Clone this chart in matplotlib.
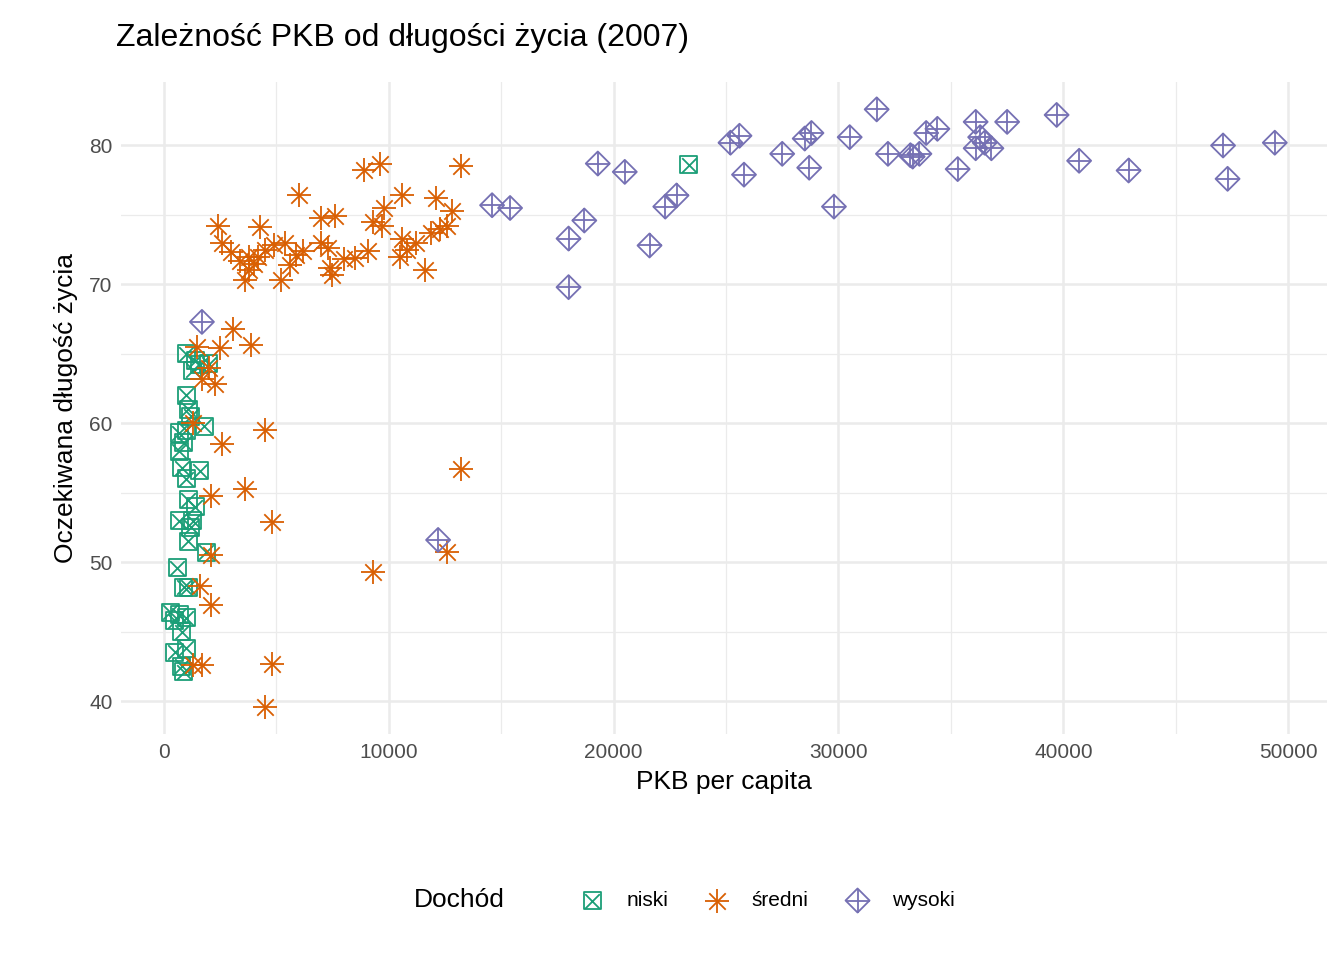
import matplotlib
matplotlib.use("Agg")
import matplotlib.pyplot as plt
from matplotlib.legend_handler import HandlerTuple

plt.rcParams['font.family'] = ['Liberation Sans', 'DejaVu Sans']

niski_x = [300,500,600,700,500,900,800,1000,800,1000,900,1100,700,1100,1200,1300,1100,1400,800,1600,1000,700,900,700,1000,1200,1800,1100,1000,1300,1600,1000,1400,2000,1900,23348]
niski_y = [46.4,45.8,49.6,46.2,43.5,42.1,42.5,43.8,45,46,48.2,48.2,53,51.5,52.5,53,54.5,54,56.8,56.6,56,58,58.6,59.3,59.5,60.5,59.8,61,62,63.8,64.2,65,64.5,64.3,50.7,78.6]
sredni_x = [4500,1300,1700,4800,2100,1600,12600,2100,9300,4800,2100,3600,13200,2600,4500,1300,1700,2300,1500,2500,3100,3900,2000,
            2400,2600,3000,3400,3600,3800,4200,4300,4500,4900,5200,5400,5600,5900,6000,6200,7000,7000,7300,7400,7500,7600,8000,8500,8900,9100,9300,9600,9700,9800,10500,10600,10600,10800,11200,11600,11900,12100,12300,12600,12800,13200,3800,4000]
sredni_y = [39.6,42.6,42.6,42.7,46.9,48.3,50.7,50.5,49.3,52.9,54.8,55.3,56.7,58.5,59.5,60,63.2,62.8,65.5,65.4,66.8,65.6,64,
            74.2,73,72.3,71.7,70.3,71,72,74.1,72.5,72.8,70.3,73,71.4,72.1,76.4,72.4,73,74.8,72.6,71.2,70.7,74.9,71.8,71.9,78.2,72.4,74.5,78.7,74.2,75.5,72,76.4,73.3,72.5,73,71,73.7,76.2,74,74.2,75.3,78.5,72,71.5]
wysoki_x = [1700,12200,14600,15400,18000,18000,18700,19300,20500,21600,22300,22800,25200,25600,25800,27500,28500,28700,28800,29800,30500,31700,32200,33200,33600,33900,34400,35300,36100,36100,36300,36800,37500,39700,40700,42900,47100,47300,49400,33300,36500]
wysoki_y = [67.3,51.6,75.7,75.5,73.3,69.8,74.6,78.7,78.1,72.8,75.6,76.4,80.2,80.7,77.9,79.4,80.5,78.4,80.9,75.6,80.6,82.6,79.4,79.3,79.4,80.9,81.2,78.3,81.7,79.8,80.6,79.8,81.7,82.2,78.9,78.2,80,77.6,80.2,79.2,80.2]

G, O, P = "#1B9E77", "#D95F02", "#7570B3"
fig, ax = plt.subplots(figsize=(13.44, 9.6), dpi=100)
fig.subplots_adjust(left=0.09, right=0.987, top=0.915, bottom=0.235)
kw = dict(linewidths=1.3, zorder=3)
h1a = ax.scatter(niski_x, niski_y, marker='s', facecolors='none', edgecolors=G, s=150, **kw)
h1b = ax.scatter(niski_x, niski_y, marker='x', c=G, s=110, **kw)
h2a = ax.scatter(sredni_x, sredni_y, marker='+', c=O, s=280, **kw)
h2b = ax.scatter(sredni_x, sredni_y, marker='x', c=O, s=140, **kw)
h3a = ax.scatter(wysoki_x, wysoki_y, marker='D', facecolors='none', edgecolors=P, s=150, **kw)
h3b = ax.scatter(wysoki_x, wysoki_y, marker='+', c=P, s=280, **kw)

ax.set_xlim(-1900, 51700)
ax.set_ylim(37.6, 84.6)
ax.set_xticks([0,10000,20000,30000,40000,50000])
ax.set_yticks([40,50,60,70,80])
ax.set_xticks([5000,15000,25000,35000,45000], minor=True)
ax.set_yticks([45,55,65,75], minor=True)
ax.grid(True, which='major', color='#EBEBEB', lw=1.8)
ax.grid(True, which='minor', color='#EBEBEB', lw=0.9)
ax.set_axisbelow(True)
for s in ax.spines.values(): s.set_visible(False)
ax.tick_params(which='both', length=0, labelsize=15, labelcolor='#4D4D4D', pad=6)
ax.set_xlabel("PKB per capita", fontsize=19, labelpad=6)
ax.set_ylabel("Oczekiwana długość życia", fontsize=19, labelpad=8)
fig.text(0.086, 0.96, "Zależność PKB od długości życia (2007)", fontsize=23, ha='left', va='center')
fig.text(0.308, 0.062, "Dochód", fontsize=19, ha='left', va='center')
leg = fig.legend([(h1a, h1b), (h2a, h2b), (h3a, h3b)], ["niski", "średni", "wysoki"],
                 handler_map={tuple: HandlerTuple(ndivide=1, pad=0)},
                 loc='center left', bbox_to_anchor=(0.415, 0.062), ncol=3, frameon=False,
                 fontsize=15, handletextpad=0.9, columnspacing=1.6, handlelength=1.5)
fig.savefig("out.png")
